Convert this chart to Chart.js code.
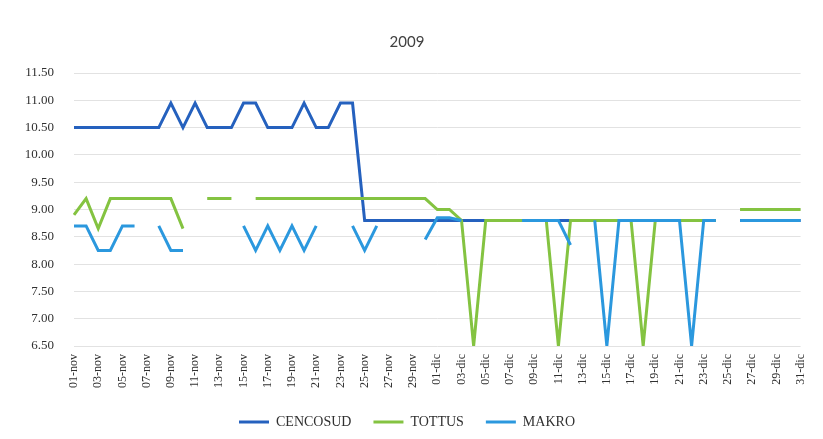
<!DOCTYPE html>
<html>
<head>
<meta charset="utf-8">
<script src="https://cdn.jsdelivr.net/npm/chart.js@4.4.0/dist/chart.umd.min.js"></script>
<style>
  html, body { margin: 0; padding: 0; background: #fff; }
  #wrap { width: 823px; height: 439px; }
</style>
</head>
<body>
<div id="wrap"><canvas id="c" width="823" height="439"></canvas></div>
<script>
// dias de nov y dic 2009
const days = [
  '01-nov','02-nov','03-nov','04-nov','05-nov','06-nov','07-nov','08-nov','09-nov','10-nov',
  '11-nov','12-nov','13-nov','14-nov','15-nov','16-nov','17-nov','18-nov','19-nov','20-nov',
  '21-nov','22-nov','23-nov','24-nov','25-nov','26-nov','27-nov','28-nov','29-nov','30-nov',
  '01-dic','02-dic','03-dic','04-dic','05-dic','06-dic','07-dic','08-dic','09-dic','10-dic',
  '11-dic','12-dic','13-dic','14-dic','15-dic','16-dic','17-dic','18-dic','19-dic','20-dic',
  '21-dic','22-dic','23-dic','24-dic','25-dic','26-dic','27-dic','28-dic','29-dic','30-dic',
  '31-dic'
];

const cencosud = [
  10.50, 10.50, 10.50, 10.50, 10.50, 10.50, 10.50, 10.50, 10.95, 10.50,
  10.95, 10.50, 10.50, 10.50, 10.95, 10.95, 10.50, 10.50, 10.50, 10.95,
  10.50, 10.50, 10.95, 10.95, 8.80, 8.80, 8.80, 8.80, 8.80, 8.80,
  8.80, 8.80, 8.80, 8.80, 8.80, 8.80, 8.80, 8.80, 8.80, 8.80,
  8.80, 8.80, 8.80, 8.80, 8.80, 8.80, 8.80, 8.80, 8.80, 8.80,
  8.80, 8.80, 8.80, 8.80, null, 8.80, 8.80, 8.80, 8.80, 8.80,
  8.80
];

const tottus = [
  8.90, 9.20, 8.65, 9.20, 9.20, 9.20, 9.20, 9.20, 9.20, 8.65,
  null, 9.20, 9.20, 9.20, null, 9.20, 9.20, 9.20, 9.20, 9.20,
  9.20, 9.20, 9.20, 9.20, 9.20, 9.20, 9.20, 9.20, 9.20, 9.20,
  9.00, 9.00, 8.80, 6.50, 8.80, 8.80, 8.80, 8.80, 8.80, 8.80,
  6.50, 8.80, 8.80, 8.80, 8.80, 8.80, 8.80, 6.50, 8.80, 8.80,
  8.80, 8.80, 8.80, 8.80, null, 9.00, 9.00, 9.00, 9.00, 9.00,
  9.00
];

const makro = [
  8.70, 8.70, 8.25, 8.25, 8.70, 8.70, null, 8.70, 8.25, 8.25,
  null, null, null, null, 8.70, 8.25, 8.70, 8.25, 8.70, 8.25,
  8.70, null, null, 8.70, 8.25, 8.70, null, null, null, 8.45,
  8.85, 8.85, 8.80, null, null, null, null, 8.80, 8.80, 8.80,
  8.80, 8.35, null, 8.80, 6.50, 8.80, 8.80, 8.80, 8.80, 8.80,
  8.80, 6.50, 8.80, 8.80, null, 8.80, 8.80, 8.80, 8.80, 8.80,
  8.80
];

const serif = "'Liberation Serif', 'DejaVu Serif', serif";

const line = (label, data, color, order) => ({
  label: label,
  data: data,
  borderColor: color,
  backgroundColor: color,
  borderWidth: 3,
  pointRadius: 0,
  tension: 0,
  order: order,
});

new Chart(document.getElementById('c'), {
  type: 'line',
  data: {
    labels: days,
    datasets: [
      line('CENCOSUD', cencosud, '#2561be', 2),
      line('TOTTUS', tottus, '#84c341', 1),
      line('MAKRO', makro, '#2b98de', 0),
    ],
  },
  options: {
    responsive: false,
    animation: false,
    layout: { padding: { left: 0, right: 9, top: 0, bottom: 0 } },
    plugins: {
      tooltip: { enabled: false },
      title: {
        display: true,
        text: '2009',
        color: '#404040',
        font: { family: 'Lato', size: 15, weight: 'normal' },
        padding: { top: 33, bottom: 22 },
      },
      legend: {
        position: 'bottom',
        labels: {
          color: '#303030',
          font: { family: serif, size: 14 },
          usePointStyle: true,
          pointStyle: 'line',
          pointStyleWidth: 30,
          boxWidth: 30,
          padding: 22,
          sort: (a, b) => a.datasetIndex - b.datasetIndex,
        },
      },
    },
    scales: {
      x: {
        offset: false,
        grid: { display: false, drawTicks: false },
        border: { display: false },
        afterFit: (s) => { s.height = 47; },
        ticks: {
          autoSkip: false,
          minRotation: 90,
          maxRotation: 90,
          padding: 8,
          color: '#303030',
          font: { family: serif, size: 12 },
          callback: function (v, i) { return i % 2 === 0 ? this.getLabelForValue(v) : ''; },
        },
      },
      y: {
        min: 6.5,
        max: 11.5,
        grid: { color: '#e2e2e2', drawTicks: false },
        border: { display: false },
        afterFit: (s) => { s.width = 74; },
        ticks: {
          stepSize: 0.5,
          padding: 20,
          color: '#303030',
          font: { family: serif, size: 13 },
          callback: (v) => v.toFixed(2),
        },
      },
    },
  },
});
</script>
</body>
</html>
